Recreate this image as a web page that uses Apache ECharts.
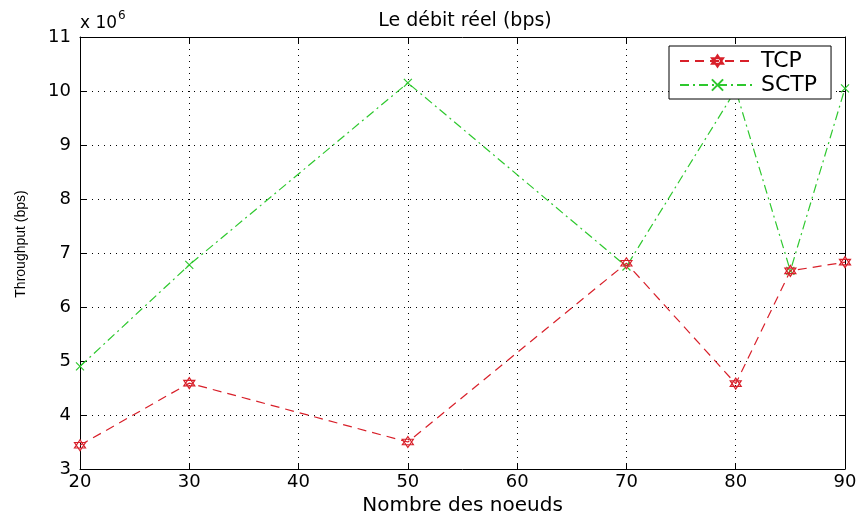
<!DOCTYPE html>
<html>
<head>
<meta charset="utf-8">
<script src="https://cdn.jsdelivr.net/npm/echarts@6/dist/echarts.min.js"></script>
<style>
  html, body { margin: 0; padding: 0; background: #fff; }
  #chart { width: 856px; height: 519px; }
</style>
</head>
<body>
<div id="chart"></div>
<script>
// valeurs (x 10^6 bps)
var noeuds = [20, 30, 50, 70, 80, 85, 90];
var tcp = [3.44, 4.59, 3.5, 6.81, 4.58, 6.67, 6.83];
var sctp = [4.9, 6.78, 10.15, 6.75, 10.02, 6.67, 10.05];

var hexagram = 'path://M0,-10 L8.66,5 L-8.66,5 Z M0,10 L8.66,-5 L-8.66,-5 Z';
var croix = 'path://M-5,-5 L5,5 M5,-5 L-5,5';
var font = 'DejaVu Sans';

function pairs(xs, ys) {
  return xs.map(function (x, i) { return [x, ys[i]]; });
}

var chart = echarts.init(document.getElementById('chart'));

var gridLine = { show: true, lineStyle: { color: '#000', type: [1, 5], width: 1 } };
var tick = { show: true, inside: true, length: 6, lineStyle: { color: '#000' } };
var axLine = { show: true, onZero: false, lineStyle: { color: '#000', width: 1 } };

var option = {
  animation: false,
  backgroundColor: '#fff',
  title: {
    text: 'Le débit réel (bps)',
    left: 460, top: 7, textAlign: 'center',
    textStyle: { fontFamily: font, fontSize: 19, fontWeight: 'normal', color: '#000' }
  },
  graphic: [{
    type: 'text', left: 80, top: 10,
    style: {
      text: '{a|x 10}{b|6}',
      rich: {
        a: { fontFamily: font, fontSize: 17, fill: '#000', verticalAlign: 'bottom' },
        b: { fontFamily: font, fontSize: 12, fill: '#000', verticalAlign: 'top', padding: [0, 0, 10, 1] }
      }
    }
  }],
  legend: {
    orient: 'vertical',
    left: 669, top: 46,
    padding: [4, 14, 3, 10],
    itemGap: 2,
    itemWidth: 75, itemHeight: 14,
    borderColor: '#000', borderWidth: 1,
    backgroundColor: '#fff',
    textStyle: { fontFamily: font, fontSize: 22, color: '#000', padding: [0, 0, 0, 1] },
    data: ['TCP', 'SCTP']
  },
  grid: { left: 80, right: 11, top: 37, bottom: 50, outerBoundsMode: 'none' },
  xAxis: [{
    type: 'value', min: 20, max: 90, interval: 10,
    name: 'Nombre des noeuds', nameLocation: 'middle', nameGap: 22,
    nameTextStyle: { fontFamily: font, fontSize: 20, color: '#000' },
    axisLine: axLine, axisTick: tick, splitLine: gridLine,
    axisLabel: { fontFamily: font, fontSize: 18, color: '#000', margin: 4 }
  }, {
    type: 'value', min: 20, max: 90, interval: 10, position: 'top',
    axisLine: axLine, axisTick: tick, splitLine: { show: false }, axisLabel: { show: false }
  }],
  yAxis: [{
    type: 'value', min: 3, max: 11, interval: 1,
    name: 'Throughput (bps)', nameLocation: 'middle', nameGap: 52,
    nameTextStyle: { fontFamily: 'Liberation Sans', fontSize: 14, color: '#000', padding: [0, 0, 0, 18] },
    axisLine: axLine, axisTick: tick, splitLine: gridLine,
    axisLabel: { fontFamily: font, fontSize: 18, color: '#000', margin: 9 }
  }, {
    type: 'value', min: 3, max: 11, interval: 1, position: 'right',
    axisLine: axLine, axisTick: tick, splitLine: { show: false }, axisLabel: { show: false }
  }],
  series: [{
    name: 'TCP', type: 'line',
    data: pairs(noeuds, tcp),
    symbol: hexagram, symbolSize: 11,
    itemStyle: { color: '#fff', borderColor: '#d8202a', borderWidth: 1.2 },
    lineStyle: { color: '#d8202a', width: 1.2, type: [9, 6] },
    z: 3
  }, {
    name: 'SCTP', type: 'line',
    data: pairs(noeuds, sctp),
    symbol: croix, symbolSize: 8,
    itemStyle: { color: 'none', borderColor: '#2ec82e', borderWidth: 1.2 },
    lineStyle: { color: '#2ec82e', width: 1.2, type: [9, 4, 2, 4] },
    z: 2
  }]
};

chart.setOption(option);
</script>
</body>
</html>
